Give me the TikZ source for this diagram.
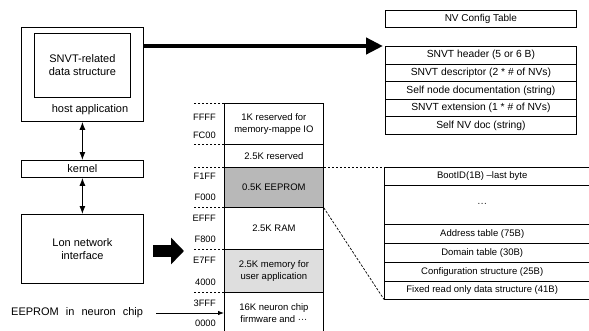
\documentclass[tikz,border=0pt]{standalone}
\usepackage{fontspec}
\setmainfont{Liberation Sans}
\usetikzlibrary{arrows.meta}
\begin{document}
\begin{tikzpicture}[x=1pt,y=-1pt,
  box/.style={draw, line width=0.8pt, inner sep=0pt, anchor=north west},
  big/.style={font=\fontsize{11}{13}\selectfont, align=center, inner sep=0pt},
  small/.style={font=\fontsize{9.5}{12}\selectfont, align=center, inner sep=0pt},
  mid/.style={font=\fontsize{10.3}{12}\selectfont, align=center, inner sep=0pt},
  addr/.style={font=\fontsize{9.3}{11}\selectfont, anchor=east, inner sep=0pt},
  txtrow/.style={anchor=north west, inner sep=0pt, minimum width=196pt, font=\fontsize{9.5}{12}\selectfont, align=center},
  sep/.style={line width=0.7pt, dash pattern=on 2.5pt off 1.5pt},
  dbl/.style={line width=1pt, {Latex[length=8pt,width=6pt]}-{Latex[length=8pt,width=6pt]}},
  ln/.style={line width=0.8pt},
]
\useasboundingbox (0,0) rectangle (589,330);
\clip (0,0) rectangle (589,330);

% left side
\node[box, minimum width=122pt, minimum height=94pt] (host) at (21,27) {};
\node[box, big, minimum width=96pt, minimum height=64pt] (snvt) at (34,33) {SNVT-related\\data structure};
\node[big] (hostlbl) at (90,110) {host application};
\node[box, big, minimum width=122pt, minimum height=17pt] (kernel) at (21,160) {kernel};
\node[box, big, minimum width=122pt, minimum height=69pt] (lon) at (21,214) {Lon network\\interface};
\draw[dbl] (host.south) -- (kernel.north);
\draw[dbl] (kernel.south) -- (lon.north);
\node[big, anchor=west] (eep) at (11,313) {EEPROM\hspace{4pt} in\hspace{4pt} neuron\hspace{4pt} chip};

% memory column
\node[box, small, minimum width=99pt, minimum height=41pt] (m1) at (224,103) {1K reserved for\\memory-mappe IO};
\node[box, small, minimum width=99pt, minimum height=23pt] (m2) at (224,144) {2.5K reserved};
\node[box, small, minimum width=99pt, minimum height=40pt, fill=black!28] (m3) at (224,167) {0.5K EEPROM};
\node[box, small, minimum width=99pt, minimum height=42pt] (m4) at (224,207) {2.5K RAM};
\node[box, small, minimum width=99pt, minimum height=43pt, fill=black!13] (m5) at (224,249) {2.5K memory for\\user application};
\node[box, small, minimum width=99pt, minimum height=41pt] (m6) at (224,292) {16K neuron chip\\firmware and ···};

\foreach \n in {m1,m2,m3,m4,m5,m6}{\draw[sep] (\n.north west) -- ++(-32,0);}

\node[addr] (a1) at (216,117) {FFFF};
\node[addr] (a2) at (216,135) {FC00};
\node[addr] (a3) at (216,176) {F1FF};
\node[addr] (a4) at (216,197) {F000};
\node[addr] (a5) at (216,218) {EFFF};
\node[addr] (a6) at (216,239) {F800};
\node[addr] (a7) at (216,260) {E7FF};
\node[addr] (a8) at (216,282) {4000};
\node[addr] (a9) at (216,303) {3FFF};
\node[addr] (a10) at (216,323) {0000};

\draw[ln, -{Latex[length=6pt,width=4.5pt]}] ([xshift=13pt]eep.east) -- (m6.west |- eep.east);

% fat arrow
\coordinate (fa1) at (153,251);
\coordinate (fa2) at (184,251);
\draw[line width=12pt, -{Triangle[length=13pt,width=26pt]}] (fa1) -- (fa2);

% NV config table
\node[box, font=\fontsize{10}{12}\selectfont, minimum width=191pt, minimum height=17pt] (nvct) at (385,10) {NV Config Table};
\node[box, mid, minimum width=191pt, minimum height=17.6pt] (t1) at (385,46) {SNVT header (5 or 6 B)};
\node[box, mid, minimum width=191pt, minimum height=17.6pt] (t2) at (385,63.6) {SNVT descriptor (2 * \# of NVs)};
\node[box, mid, minimum width=191pt, minimum height=17.6pt] (t3) at (385,81.2) {Self node documentation (string)};
\node[box, mid, minimum width=191pt, minimum height=17.6pt] (t4) at (385,98.8) {SNVT extension (1 * \# of NVs)};
\node[box, mid, minimum width=191pt, minimum height=17.6pt] (t5) at (385,116.4) {Self NV doc (string)};

\draw[line width=4.5pt, -{Triangle[length=17pt,width=16pt]}] (host.east |- t1.north west) -- ([xshift=-2pt]t1.north west);

% lower right table
\node[txtrow, minimum height=18pt] (b1) at (384,167) {BootID(1B) –last byte};
\node[txtrow, minimum height=39pt] (b2) at (384,185) {···};
\node[txtrow, minimum height=19pt] (b3) at (384,224) {Address table (75B)};
\node[txtrow, minimum height=19pt] (b4) at (384,243) {Domain table (30B)};
\node[txtrow, minimum height=19pt] (b5) at (384,262) {Configuration structure (25B)};
\node[txtrow, minimum height=18pt] (b6) at (384,281) {Fixed read only data structure (41B)};
\foreach \n in {b1,b2,b3,b4,b5,b6}{\draw[ln] (\n.north west) -- ++(210,0);}
\draw[ln] (b6.south west) -- ++(210,0);
\draw[ln] (b1.north west) -- (b6.south west);

\draw[sep] (m3.north east) -- (b1.north west);
\draw[sep] (m3.south east) -- (b6.south west);
\end{tikzpicture}
\end{document}
